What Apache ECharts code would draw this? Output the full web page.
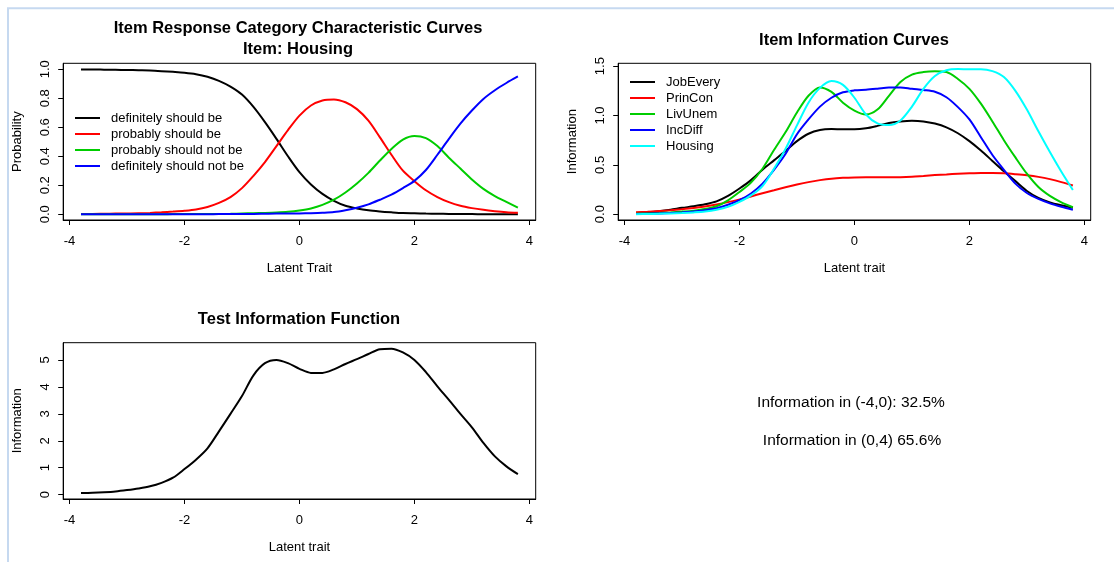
<!DOCTYPE html>
<html>
<head>
<meta charset="utf-8">
<script src="https://cdn.jsdelivr.net/npm/echarts@6/dist/echarts.min.js"></script>
<style>
  html, body { margin: 0; padding: 0; background: #fff; }
  #chart { width: 1114px; height: 562px; }
</style>
</head>
<body>
<div id="chart"></div>
<script>
// Latent trait grid shared by every curve
const theta = [-3.8, -3.6, -3.4, -3.2, -3.0, -2.8, -2.6, -2.4, -2.2, -2.0,
               -1.8, -1.6, -1.4, -1.2, -1.0, -0.8, -0.6, -0.4, -0.2, 0.0,
                0.2, 0.4, 0.6, 0.8, 1.0, 1.2, 1.4, 1.6, 1.8, 2.0,
                2.2, 2.4, 2.6, 2.8, 3.0, 3.2, 3.4, 3.6, 3.8];

// Category characteristic curves for the Housing item
const categoryNames = ['definitely should be', 'probably should be', 'probably should not be', 'definitely should not be'];
const catDefShould = [0.998, 0.998, 0.997, 0.996, 0.995, 0.993, 0.991, 0.987, 0.982, 0.976,
                      0.966, 0.948, 0.920, 0.880, 0.825, 0.740, 0.635, 0.520, 0.400, 0.290,
                      0.205, 0.140, 0.092, 0.058, 0.040, 0.027, 0.019, 0.013, 0.008, 0.006,
                      0.004, 0.003, 0.002, 0.001, 0.001, 0.000, 0.000, 0.000, 0.000];
const catProbShould = [0.002, 0.002, 0.003, 0.004, 0.005, 0.006, 0.009, 0.013, 0.018, 0.024,
                       0.033, 0.050, 0.078, 0.118, 0.180, 0.265, 0.360, 0.470, 0.580, 0.680,
                       0.750, 0.785, 0.792, 0.772, 0.725, 0.645, 0.530, 0.410, 0.300, 0.228,
                       0.165, 0.118, 0.083, 0.058, 0.042, 0.030, 0.021, 0.014, 0.010];
const catProbNot = [0.000, 0.000, 0.000, 0.000, 0.000, 0.000, 0.000, 0.000, 0.001, 0.001,
                    0.001, 0.002, 0.002, 0.003, 0.005, 0.007, 0.009, 0.012, 0.017, 0.026,
                    0.040, 0.064, 0.100, 0.150, 0.212, 0.285, 0.370, 0.450, 0.515, 0.540,
                    0.525, 0.470, 0.390, 0.315, 0.240, 0.175, 0.125, 0.085, 0.045];
const catDefNot = [0.000, 0.000, 0.000, 0.000, 0.000, 0.000, 0.000, 0.000, 0.000, 0.000,
                   0.000, 0.000, 0.001, 0.001, 0.002, 0.002, 0.003, 0.004, 0.004, 0.005,
                   0.007, 0.010, 0.015, 0.028, 0.045, 0.068, 0.100, 0.135, 0.180, 0.230,
                   0.305, 0.410, 0.520, 0.625, 0.715, 0.795, 0.855, 0.905, 0.950];

// Item information curves
const itemNames = ['JobEvery', 'PrinCon', 'LivUnem', 'IncDiff', 'Housing'];
const infoJobEvery = [0.013, 0.020, 0.030, 0.045, 0.064, 0.080, 0.100, 0.130, 0.185, 0.260,
                      0.345, 0.450, 0.545, 0.640, 0.740, 0.815, 0.853, 0.862, 0.860, 0.860,
                      0.870, 0.895, 0.925, 0.940, 0.947, 0.940, 0.918, 0.880, 0.820, 0.740,
                      0.645, 0.540, 0.435, 0.335, 0.235, 0.165, 0.120, 0.090, 0.065];
const infoPrinCon = [0.020, 0.025, 0.032, 0.040, 0.050, 0.062, 0.078, 0.098, 0.122, 0.150,
                     0.180, 0.212, 0.242, 0.272, 0.300, 0.325, 0.345, 0.360, 0.368, 0.372,
                     0.373, 0.373, 0.373, 0.375, 0.380, 0.388, 0.396, 0.403, 0.410, 0.415,
                     0.418, 0.418, 0.414, 0.405, 0.394, 0.378, 0.355, 0.325, 0.290];
const infoLivUnem = [0.005, 0.008, 0.012, 0.018, 0.026, 0.036, 0.052, 0.080, 0.140, 0.225,
                     0.320, 0.460, 0.650, 0.830, 1.030, 1.200, 1.285, 1.240, 1.130, 1.050,
                     1.010, 1.060, 1.200, 1.340, 1.415, 1.440, 1.448, 1.440, 1.370, 1.270,
                     1.120, 0.940, 0.750, 0.575, 0.410, 0.275, 0.185, 0.120, 0.070];
const infoIncDiff = [0.003, 0.005, 0.008, 0.012, 0.018, 0.026, 0.040, 0.060, 0.095, 0.142,
                     0.210, 0.310, 0.450, 0.610, 0.810, 0.960, 1.090, 1.180, 1.235, 1.255,
                     1.262, 1.272, 1.283, 1.285, 1.270, 1.258, 1.240, 1.185, 1.085, 0.960,
                     0.780, 0.600, 0.450, 0.310, 0.215, 0.155, 0.110, 0.075, 0.045];
const infoHousing = [0.000, 0.002, 0.004, 0.008, 0.012, 0.018, 0.027, 0.045, 0.075, 0.125,
                     0.190, 0.285, 0.460, 0.660, 0.900, 1.130, 1.280, 1.350, 1.310, 1.180,
                     1.010, 0.920, 0.903, 0.950, 1.090, 1.270, 1.400, 1.458, 1.470, 1.468,
                     1.469, 1.450, 1.390, 1.250, 1.060, 0.840, 0.630, 0.430, 0.245];

// Test information function
const testInfo = [0.06, 0.07, 0.09, 0.12, 0.17, 0.23, 0.31, 0.44, 0.63, 0.95,
                  1.30, 1.72, 2.35, 3.00, 3.66, 4.43, 4.88, 5.00, 4.88, 4.67,
                  4.52, 4.52, 4.65, 4.85, 5.03, 5.22, 5.40, 5.42, 5.28, 5.00,
                  4.55, 4.02, 3.52, 3.00, 2.50, 1.92, 1.42, 1.05, 0.76];

// Share of information in each half of the trait range (percent)
const infoLowerShare = 32.5;
const infoUpperShare = 65.6;

// Tick labels
const xTicks = [-4, -2, 0, 2, 4];
const probTicks = [0, 0.2, 0.4, 0.6, 0.8, 1.0];
const itemInfoTicks = [0, 0.5, 1.0, 1.5];
const testInfoTicks = [0, 1, 2, 3, 4, 5];

const FONT = '"Liberation Sans", Arial, Helvetica, sans-serif';
const curveColors = ['#000000', '#ff0000', '#00cd00', '#0000ff', '#00ffff'];

const pairs = vals => theta.map((t, i) => [t, vals[i]]);

function xAxisFor(idx, label) {
  return {
    type: 'value', gridIndex: idx, min: -4.11, max: 4.11,
    axisLine: { show: true, onZero: false, lineStyle: { color: '#000', width: 1 } },
    axisTick: { show: true, length: 5, customValues: xTicks, lineStyle: { color: '#000' } },
    axisLabel: { customValues: xTicks, margin: 15, fontSize: 13, color: '#000', fontFamily: FONT },
    splitLine: { show: false },
    name: label, nameLocation: 'middle', nameGap: 41.5,
    nameTextStyle: { fontSize: 13, color: '#000', fontFamily: FONT }
  };
}

function yAxisFor(idx, min, max, ticks, digits, label) {
  return {
    type: 'value', gridIndex: idx, min: min, max: max,
    axisLine: { show: true, onZero: false, lineStyle: { color: '#000', width: 1 } },
    axisTick: { show: true, length: 5, customValues: ticks, lineStyle: { color: '#000' } },
    axisLabel: {
      customValues: ticks, rotate: 90, margin: 11, fontSize: 13, color: '#000', fontFamily: FONT,
      formatter: v => Number(v).toFixed(digits)
    },
    splitLine: { show: false },
    name: label, nameLocation: 'middle', nameGap: 39,
    nameTextStyle: { fontSize: 13, color: '#000', fontFamily: FONT }
  };
}

function curve(name, vals, color, idx) {
  return {
    type: 'line', name: name, xAxisIndex: idx, yAxisIndex: idx,
    data: pairs(vals), showSymbol: false, smooth: 0.3,
    lineStyle: { color: color, width: 2 }, itemStyle: { color: color },
    silent: true
  };
}

function legendFor(names, left, top) {
  return {
    data: names, orient: 'vertical', left: left, top: top, padding: 0,
    icon: 'rect', itemWidth: 25, itemHeight: 2, itemGap: 0, selectedMode: false,
    textStyle: { fontSize: 13, color: '#000', fontFamily: FONT, lineHeight: 16, padding: [0, 0, 0, 6] }
  };
}

const titleStyle = { fontSize: 16.5, fontWeight: 'bold', color: '#000', fontFamily: FONT, lineHeight: 21 };

const option = {
  animation: false,
  backgroundColor: '#ffffff',
  title: [
    { text: 'Item Response Category Characteristic Curves\nItem: Housing', left: 298, top: 18, textAlign: 'center', padding: 0, textStyle: titleStyle },
    { text: 'Item Information Curves', left: 854, top: 30, textAlign: 'center', padding: 0, textStyle: titleStyle },
    { text: 'Test Information Function', left: 299, top: 308.5, textAlign: 'center', padding: 0, textStyle: titleStyle }
  ],
  grid: [
    { left: 63.2, top: 63.3, width: 472.5, height: 156.7, show: true, borderColor: '#000', borderWidth: 1 },
    { left: 618.2, top: 63.3, width: 472.5, height: 156.7, show: true, borderColor: '#000', borderWidth: 1 },
    { left: 63.2, top: 342.7, width: 472.5, height: 156.3, show: true, borderColor: '#000', borderWidth: 1 }
  ],
  xAxis: [
    xAxisFor(0, 'Latent Trait'),
    xAxisFor(1, 'Latent trait'),
    xAxisFor(2, 'Latent trait')
  ],
  yAxis: [
    yAxisFor(0, -0.04, 1.041, probTicks, 1, 'Probability'),
    yAxisFor(1, -0.059, 1.529, itemInfoTicks, 1, 'Information'),
    yAxisFor(2, -0.16, 5.64, testInfoTicks, 0, 'Information')
  ],
  legend: [
    legendFor(categoryNames, 75, 110),
    legendFor(itemNames, 630, 74)
  ],
  series: [
    curve(categoryNames[0], catDefShould, curveColors[0], 0),
    curve(categoryNames[1], catProbShould, curveColors[1], 0),
    curve(categoryNames[2], catProbNot, curveColors[2], 0),
    curve(categoryNames[3], catDefNot, curveColors[3], 0),
    curve(itemNames[0], infoJobEvery, curveColors[0], 1),
    curve(itemNames[1], infoPrinCon, curveColors[1], 1),
    curve(itemNames[2], infoLivUnem, curveColors[2], 1),
    curve(itemNames[3], infoIncDiff, curveColors[3], 1),
    curve(itemNames[4], infoHousing, curveColors[4], 1),
    curve('Test information', testInfo, '#000000', 2)
  ],
  graphic: [
    { type: 'line', silent: true, shape: { x1: 7, y1: 8.3, x2: 1114, y2: 8.3 }, style: { stroke: '#c6d9f0', lineWidth: 2 } },
    { type: 'line', silent: true, shape: { x1: 8, y1: 8.3, x2: 8, y2: 562 }, style: { stroke: '#c6d9f0', lineWidth: 2 } },
    { type: 'text', silent: true, x: 851, y: 403,
      style: { text: 'Information in (-4,0): ' + infoLowerShare.toFixed(1) + '%', font: '15.5px ' + FONT, fill: '#000', align: 'center', verticalAlign: 'middle' } },
    { type: 'text', silent: true, x: 852, y: 441,
      style: { text: 'Information in (0,4) ' + infoUpperShare.toFixed(1) + '%', font: '15.5px ' + FONT, fill: '#000', align: 'center', verticalAlign: 'middle' } }
  ]
};

const chart = echarts.init(document.getElementById('chart'), null, { renderer: 'canvas' });
chart.setOption(option);
</script>
</body>
</html>
